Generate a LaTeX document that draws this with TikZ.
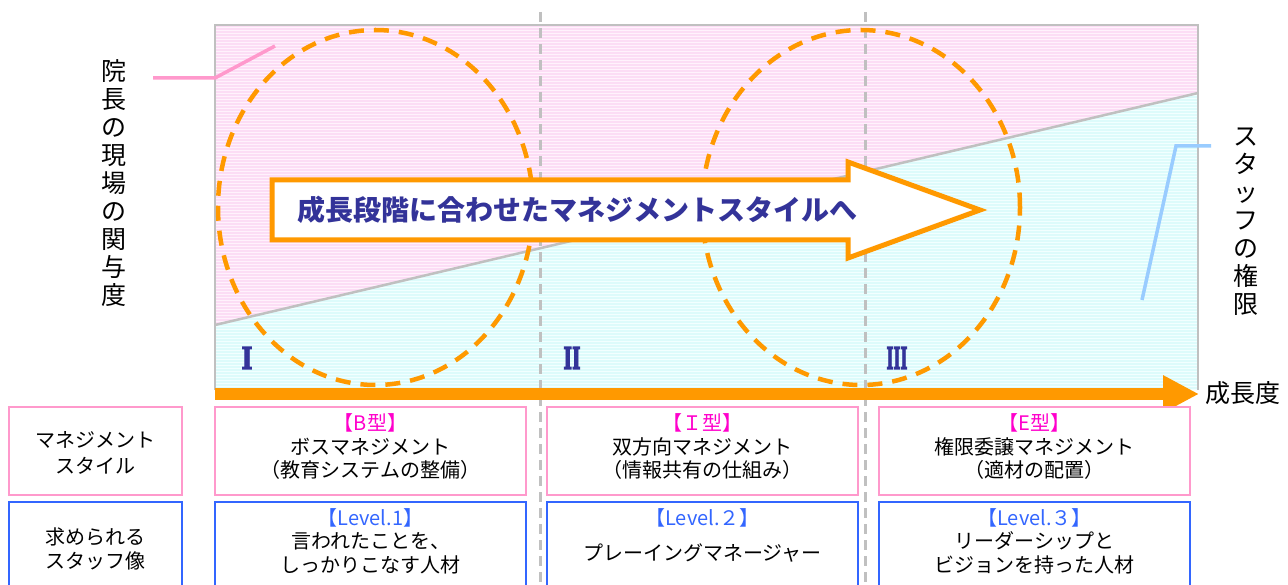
\documentclass[tikz,border=0pt]{standalone}
\usepackage{fontspec}
\setmainfont{Noto Sans CJK JP}
\newfontfamily\romanfont{DejaVu Serif}[BoldFont={DejaVu Serif Bold}]
\usetikzlibrary{arrows.meta}
\definecolor{orng}{HTML}{FF9900}
\definecolor{navy}{HTML}{333399}
\definecolor{mag}{HTML}{FF00CC}
\definecolor{lvlblue}{HTML}{3366FF}
\definecolor{pinkbd}{HTML}{FF99CC}
\definecolor{bluebd}{HTML}{3366FF}
\definecolor{gridgray}{HTML}{C0C0C0}
\definecolor{pinkfill}{HTML}{FFF2FC}
\definecolor{pinkstripe}{HTML}{FCDDF5}
\definecolor{cyanfill}{HTML}{F2FFFF}
\definecolor{cyanstripe}{HTML}{DDFBFB}
\definecolor{skyline}{HTML}{99CCFF}
\newcommand{\heavytext}[1]{\special{pdf:literal direct 2 Tr 1.2 w}#1\special{pdf:literal direct 0 Tr}}
\begin{document}
\begin{tikzpicture}[x=1pt,y=-1pt,
  boxp/.style={draw=pinkbd,line width=2pt,fill=white,inner sep=0pt,minimum height=88pt},
  boxb/.style={draw=bluebd,line width=2pt,fill=white,inner sep=0pt,minimum height=88pt},
  boxtext/.style={align=center,inner sep=0pt,font=\fontsize{20}{23.5}\selectfont},
  vlabel/.style={align=center,inner sep=0pt,font=\fontsize{25}{28}\selectfont},
  romannum/.style={inner sep=0pt,text=navy,font=\romanfont\bfseries\fontsize{30}{30}\selectfont},
  stagecircle/.style={draw=orng,line width=4.5pt,dash pattern=on 15pt off 10pt},
  griddash/.style={draw=gridgray,line width=3pt,dash pattern=on 10pt off 6pt}
]
\useasboundingbox (0,0) rectangle (1288,585);
\fill[white] (0,0) rectangle (1288,585);

% chart background
\fill[pinkfill] (215,25) -- (1198,25) -- (1198,93) -- (215,325) -- cycle;
\fill[cyanfill] (215,325) -- (1198,93) -- (1198,390) -- (215,390) -- cycle;
\begin{scope}
  \clip (215,25) -- (1198,25) -- (1198,93) -- (215,325) -- cycle;
  \foreach \yy in {26,29,...,326} \draw[pinkstripe,line width=1.2pt] (215,\yy) -- (1198,\yy);
\end{scope}
\begin{scope}
  \clip (215,325) -- (1198,93) -- (1198,390) -- (215,390) -- cycle;
  \foreach \yy in {94,97,...,391} \draw[cyanstripe,line width=1.2pt] (215,\yy) -- (1198,\yy);
\end{scope}
\draw[gridgray,line width=2.5pt] (215,325) -- (1198,93);
\draw[gridgray,line width=2.5pt] (215,390) -- (215,25) -- (1198,25) -- (1198,390);

% stage dividers
\coordinate (d1t) at (540,12); \coordinate (d1b) at (540,585);
\coordinate (d2t) at (865,12); \coordinate (d2b) at (865,585);
\draw[griddash] (d1t) -- (d1b);
\draw[griddash] (d2t) -- (d2b);

% dashed circles
\draw[stagecircle] (375.5,207.5) ellipse [x radius=157.5pt, y radius=177.5pt];
\draw[stagecircle] (861,207.5) ellipse [x radius=159pt, y radius=177.5pt];

% big arrow
\draw[orng,line width=5pt,fill=white,line join=miter]
  (272,180) -- (848,180) -- (848,162) -- (980,210) -- (848,258) -- (848,240) -- (272,240) -- cycle;
\node[anchor=west,inner sep=0pt,text=navy,font=\bfseries\fontsize{28}{28}\selectfont] (bigtext) at (297,210) {成長段階に合わせたマネジメントスタイルへ};

% roman numerals
\node[romannum] (r1) at (247,358) {\heavytext{\scalebox{0.8}[1]{I}}};
\node[romannum] (r2) at (572,358) {\heavytext{\scalebox{0.62}[1]{II}}};
\node[romannum] (r3) at (897,358) {\heavytext{\scalebox{0.5}[1]{III}}};

% axis
\coordinate (ax0) at (215,394);
\coordinate (ax1) at (1199,394);
\draw[orng,line width=12pt,-{Triangle[length=36pt,width=35pt]}] (ax0) -- (ax1);
\node[anchor=west,inner sep=0pt,font=\fontsize{25}{25}\selectfont] (growth) at (1205,393) {成長度};

% side labels
\node[vlabel] (leftlab) at (114,183) {院\\長\\の\\現\\場\\の\\関\\与\\度};
\coordinate (pl0) at (153,78); \coordinate (pl1) at (215,78); \coordinate (pl2) at (275,46);
\draw[pinkbd,line width=3.5pt] (pl0) -- (pl1) -- (pl2);
\node[vlabel] (rightlab) at (1246,222) {ス\\タ\\ッ\\フ\\の\\権\\限};
\coordinate (bl0) at (1211,146); \coordinate (bl1) at (1176,146); \coordinate (bl2) at (1142,300);
\draw[skyline,line width=3.5pt] (bl0) -- (bl1) -- (bl2);

% boxes row 1
\node[boxp,minimum width=173pt] (m0) at (95.5,451) {};
\node[boxp,minimum width=311pt] (m1) at (370.5,451) {};
\node[boxp,minimum width=311pt] (m2) at (702.5,451) {};
\node[boxp,minimum width=311pt] (m3) at (1034.5,451) {};
% boxes row 2
\node[boxb,minimum width=173pt] (s0) at (95.5,546) {};
\node[boxb,minimum width=311pt] (s1) at (370.5,546) {};
\node[boxb,minimum width=311pt] (s2) at (702.5,546) {};
\node[boxb,minimum width=311pt] (s3) at (1034.5,546) {};

% box texts
\node[boxtext,font=\fontsize{20}{26}\selectfont] (t0) at (95.5,453) {マネジメント\\スタイル};
\node[boxtext] (t1) at (370.5,446.5) {{\color{mag}【B型】}\\ボスマネジメント\\（教育システムの整備）};
\node[boxtext] (t2) at (702.5,446.5) {{\color{mag}【Ｉ型】}\\双方向マネジメント\\（情報共有の仕組み）};
\node[boxtext] (t3) at (1034.5,446.5) {{\color{mag}【E型】}\\権限委譲マネジメント\\（適材の配置）};

\node[boxtext] (u0) at (95.5,549) {求められる\\スタッフ像};
\node[boxtext] (u1) at (370.5,541) {{\color{lvlblue}【Level.1】}\\言われたことを、\\しっかりこなす人材};
\node[boxtext,font=\fontsize{20}{35}\selectfont] (u2) at (702.5,535.5) {{\color{lvlblue}【Level.２】}\\プレーイングマネージャー};
\node[boxtext] (u3) at (1034.5,541) {{\color{lvlblue}【Level.３】}\\リーダーシップと\\ビジョンを持った人材};
\end{tikzpicture}
\end{document}
